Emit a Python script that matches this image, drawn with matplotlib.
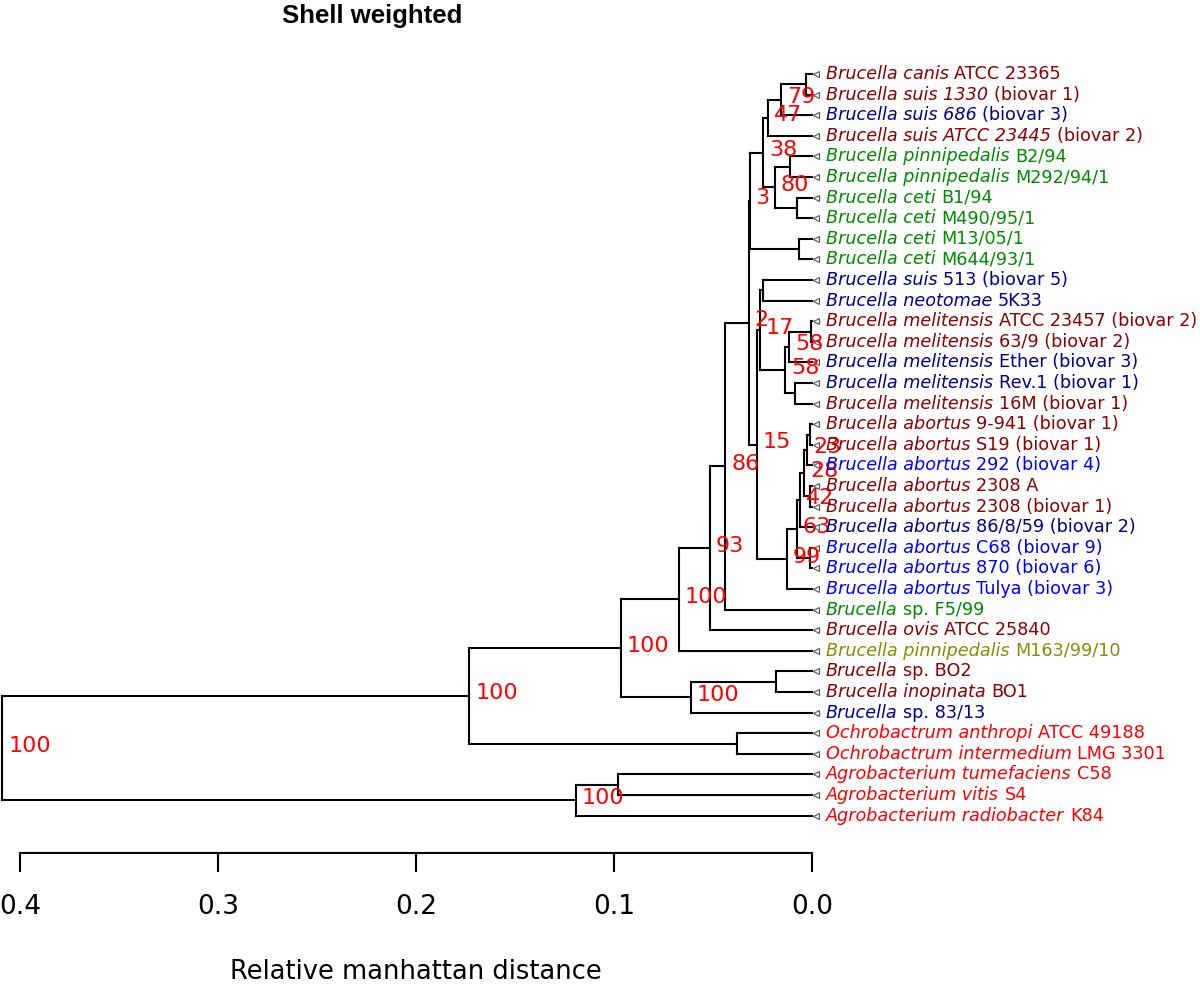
import numpy as np
import matplotlib
matplotlib.use("Agg")
import matplotlib.pyplot as plt

# ── Leaves (top to bottom) ────────────────────────────────────────────────────
LEAF_ITALIC = [
    "Brucella canis", "Brucella suis 1330", "Brucella suis 686", "Brucella suis ATCC 23445",
    "Brucella pinnipedalis", "Brucella pinnipedalis", "Brucella ceti", "Brucella ceti",
    "Brucella ceti", "Brucella ceti", "Brucella suis", "Brucella neotomae",
    "Brucella melitensis", "Brucella melitensis", "Brucella melitensis", "Brucella melitensis",
    "Brucella melitensis", "Brucella abortus", "Brucella abortus", "Brucella abortus",
    "Brucella abortus", "Brucella abortus", "Brucella abortus", "Brucella abortus",
    "Brucella abortus", "Brucella abortus", "Brucella", "Brucella ovis",
    "Brucella pinnipedalis", "Brucella", "Brucella inopinata", "Brucella",
    "Ochrobactrum anthropi", "Ochrobactrum intermedium", "Agrobacterium tumefaciens",
    "Agrobacterium vitis", "Agrobacterium radiobacter",
]
LEAF_REST = [
    "ATCC 23365", "(biovar 1)", "(biovar 3)", "(biovar 2)",
    "B2/94", "M292/94/1", "B1/94", "M490/95/1",
    "M13/05/1", "M644/93/1", "513 (biovar 5)", "5K33",
    "ATCC 23457 (biovar 2)", "63/9 (biovar 2)", "Ether (biovar 3)", "Rev.1 (biovar 1)",
    "16M (biovar 1)", "9-941 (biovar 1)", "S19 (biovar 1)", "292 (biovar 4)",
    "2308 A", "2308 (biovar 1)", "86/8/59 (biovar 2)", "C68 (biovar 9)",
    "870 (biovar 6)", "Tulya (biovar 3)", "sp. F5/99", "ATCC 25840",
    "M163/99/10", "sp. BO2", "BO1", "sp. 83/13",
    "ATCC 49188", "LMG 3301", "C58", "S4", "K84",
]
LEAF_COLOR = [
    "#8B0000", "#8B0000", "#00008B", "#8B0000",
    "#008B00", "#008B00", "#008B00", "#008B00",
    "#008B00", "#008B00", "#00008B", "#00008B",
    "#8B0000", "#8B0000", "#00008B", "#00008B",
    "#8B0000", "#8B0000", "#8B0000", "#0000FF",
    "#8B0000", "#8B0000", "#00008B", "#0000FF",
    "#0000FF", "#0000FF", "#008B00", "#8B0000",
    "#8B8B00", "#8B0000", "#8B0000", "#00008B",
    "#FF0000", "#FF0000", "#FF0000", "#FF0000", "#FF0000",
]

# ── Merges (R hclust style: negative = leaf, positive = earlier merge) ───────
MERGE_A = [-1, 1, 2, -5, -7, 4, 3, -9, 7, -11, -13, 11, -16, 12, 10, -18, 16, -21,
           17, 19, -24, 20, 22, 15, 9, 25, 26, 27, -30, 29, 28, -33, 31, -35, 34, 33]
MERGE_B = [-2, -3, -4, -6, -8, 5, 6, -10, 8, -12, -14, -15, -17, 13, 14, -19, -20, -22,
           18, -23, -25, 21, -26, 23, 24, -27, -28, -29, -31, -32, 30, -34, 32, -36, -37, 35]
MERGE_HEIGHT = [0.0030, 0.0157, 0.0222, 0.0111, 0.0076, 0.0187, 0.0247, 0.0066, 0.0315,
                0.0247, 0.0005, 0.0116, 0.0086, 0.0136, 0.0263, 0.0010, 0.0025, 0.0010,
                0.0040, 0.0061, 0.0010, 0.0076, 0.0126, 0.0278, 0.0320, 0.0439, 0.0515,
                0.0672, 0.0182, 0.0611, 0.0965, 0.0379, 0.1732, 0.0980, 0.1192, 0.4090]
MERGE_LABEL = ["", "79", "47", "", "", "80", "38", "", "3",
               "", "", "58", "", "58", "17", "", "23", "",
               "28", "42", "", "63", "99", "15", "2", "86", "93",
               "100", "", "100", "100", "", "100", "", "100", "100"]

AXIS_TICKS = [0.4, 0.3, 0.2, 0.1, 0.0]

plt.rcParams["font.family"] = "DejaVu Sans"

fig = plt.figure(figsize=(12, 9.89), dpi=100)
ax = fig.add_axes([0, 0, 1, 1])
# 1 unit of distance = 1980 px, distance 0 at x=812 px; leaves 20.6 px apart from y=74 px
ax.set_xlim(812 / 1980, (812 - 1200) / 1980)
ax.set_ylim((989 - 74) / 20.6, -74 / 20.6)
ax.axis("off")

node_y = []


def child_pos(c):
    if c < 0:
        return 0.0, -c - 1
    return MERGE_HEIGHT[c - 1], node_y[c - 1]


lw = 1.5
for a, b, h, lab in zip(MERGE_A, MERGE_B, MERGE_HEIGHT, MERGE_LABEL):
    xa, ya = child_pos(a)
    xb, yb = child_pos(b)
    ax.plot([h, h], [ya, yb], color="black", lw=lw, solid_capstyle="projecting")
    ax.plot([h, xa], [ya, ya], color="black", lw=lw, solid_capstyle="projecting")
    ax.plot([h, xb], [yb, yb], color="black", lw=lw, solid_capstyle="projecting")
    ym = (ya + yb) / 2
    node_y.append(ym)
    if lab:
        ax.text(h - 6 / 1980, ym - 0.12, lab, color="red", fontsize=16,
                ha="left", va="center")

# leaf tips and labels
ys = np.arange(len(LEAF_ITALIC))
ax.plot(np.full(len(ys), -3.5 / 1980), ys, ls="none", marker="<", ms=4,
        mfc="white", mec="#555555", mew=0.8)
for i, (it, rest, col) in enumerate(zip(LEAF_ITALIC, LEAF_REST, LEAF_COLOR)):
    t = ax.text(-14 / 1980, i, it, color=col, fontsize=12.7, style="italic",
                ha="left", va="center")
    ax.annotate(rest, xy=(1, 0.5), xycoords=t, xytext=(4, 0), textcoords="offset points",
                color=col, fontsize=12.7, ha="left", va="center")

# distance scale
ax2 = fig.add_axes([20 / 1200, 1 - 853 / 989, 792 / 1200, 0.001])
ax2.set_xlim(0.4, 0.0)
ax2.set_ylim(0, 1)
for s in ["top", "left", "right"]:
    ax2.spines[s].set_visible(False)
ax2.spines["bottom"].set_linewidth(lw)
ax2.set_yticks([])
ax2.set_xticks(AXIS_TICKS)
ax2.set_xticklabels([f"{t:.1f}" for t in AXIS_TICKS], fontsize=19)
ax2.tick_params(axis="x", direction="out", length=13.7, width=lw, pad=16)
ax2.set_xlabel("Relative manhattan distance", fontsize=18.5, labelpad=28)
ax2.patch.set_visible(False)

fig.text(372 / 1200, 1 - 16 / 989, "Shell weighted", fontsize=18.5, fontweight="bold",
         family=["Liberation Sans", "DejaVu Sans"], ha="center", va="center")

fig.savefig("out.png", dpi=100)
